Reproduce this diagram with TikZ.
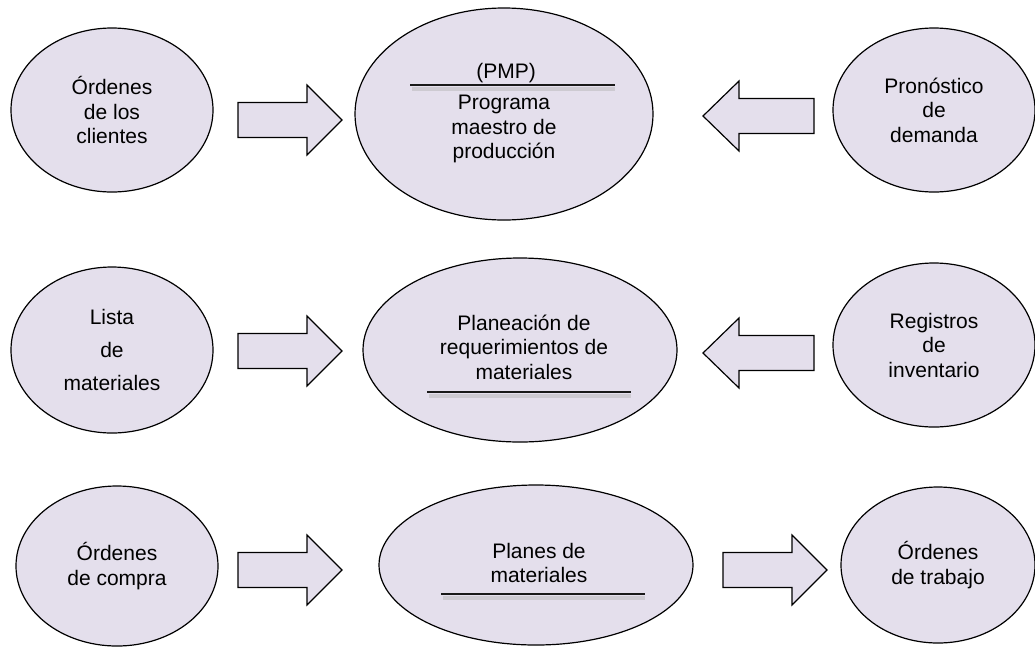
\documentclass[tikz,border=0pt]{standalone}
\usepackage{fontspec}
\setmainfont{Liberation Sans}
\usetikzlibrary{shapes.geometric}
\definecolor{lav}{RGB}{228,223,236}
% block arrow: tail x, head base x, tip x, centre y
\newcommand{\fatarrow}[4]{%
  \draw[blockarrow] (#1,#4-17.5) -- (#2,#4-17.5) -- (#2,#4-35) -- (#3,#4)
    -- (#2,#4+35) -- (#2,#4+17.5) -- (#1,#4+17.5) -- cycle;}
\begin{document}
\begin{tikzpicture}[x=1pt,y=-1pt,
  oval/.style={ellipse, draw=black, fill=lav, line width=1.2pt, inner sep=0pt,
    align=center, font=\fontsize{21}{24.5}\selectfont},
  lbl/.style={align=center, inner sep=0pt, font=\fontsize{21}{24.5}\selectfont},
  blockarrow/.style={draw=black, fill=lav, line width=1.2pt, line join=miter},
  rule/.style={line width=1.5pt, black!90},
  ruleshadow/.style={line width=4pt, black!30, opacity=0.45}]
\useasboundingbox (0,0) rectangle (1035,646);
\fill[white] (0,0) rectangle (1035,646);

% row 1
\node[oval, minimum width=202pt, minimum height=164pt] (oc) at (112,110)
  {Órdenes\\de los\\clientes};
\node[oval, minimum width=298pt, minimum height=212pt] (pmp) at (504,114) {};
\node[oval, minimum width=202pt, minimum height=164pt] (pd) at (934,110)
  {Pronóstico\\de\\demanda};
\node[lbl] (pmp-a) at (506,73) {(PMP)};
\draw[ruleshadow] (412,88.5) -- (615,88.5);
\draw[rule] (410,85) -- (615,85);
\node[lbl] (pmp-b) at (504,129) {Programa\\maestro de\\producción};
\fatarrow{238}{307}{342}{120}
\fatarrow{814}{739}{703}{116}

% row 2
\node[oval, minimum width=202pt, minimum height=166pt,
  font=\fontsize{21}{33}\selectfont] (lm) at (112,350) {Lista\\de\\materiales};
\node[oval, minimum width=314pt, minimum height=184pt] (mrp) at (520,350) {};
\node[oval, minimum width=202pt, minimum height=164pt] (ri) at (934,345)
  {Registros\\de\\inventario};
\node[lbl] (mrp-a) at (524,347) {Planeación de\\requerimientos de\\materiales};
\draw[ruleshadow] (429,395.5) -- (631,395.5);
\draw[rule] (427,392) -- (631,392);
\fatarrow{238}{307}{342}{351}
\fatarrow{814}{739}{703}{353}

% row 3
\node[oval, minimum width=202pt, minimum height=160pt] (oco) at (117,566)
  {Órdenes\\de compra};
\node[oval, minimum width=314pt, minimum height=160pt] (pm) at (536,565) {};
\node[oval, minimum width=194pt, minimum height=156pt] (ot) at (938,565)
  {Órdenes\\de trabajo};
\node[lbl] (pm-a) at (539,563) {Planes de\\materiales};
\draw[ruleshadow] (443,597.5) -- (645,597.5);
\draw[rule] (441,594) -- (645,594);
\fatarrow{238}{307}{342}{570}
\fatarrow{723}{792}{827}{570}
\end{tikzpicture}
\end{document}
